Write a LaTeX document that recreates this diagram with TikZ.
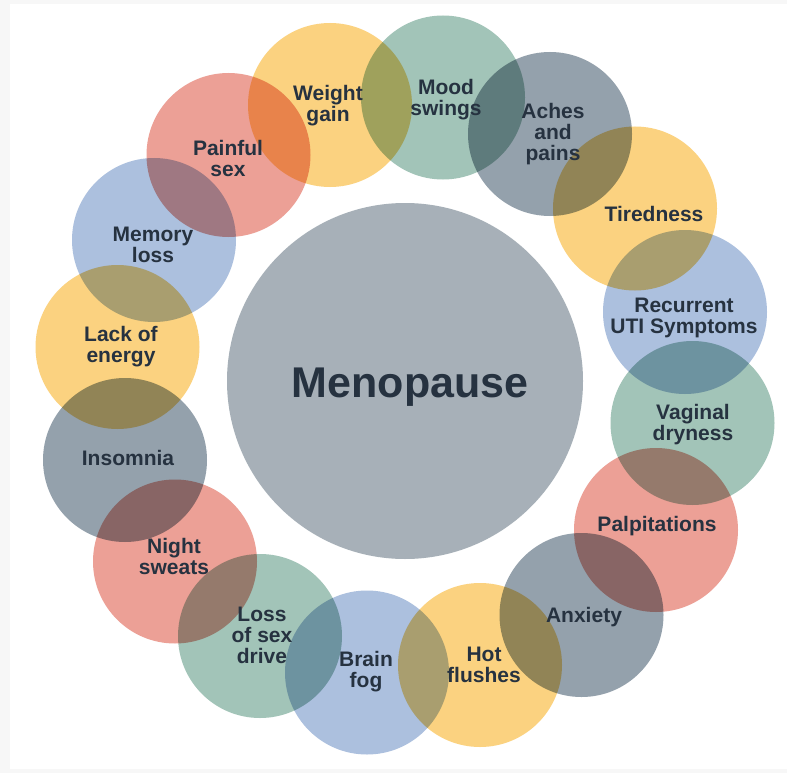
\documentclass[tikz,border=0pt]{standalone}
\usepackage{fontspec}
\setmainfont{Liberation Sans}
\definecolor{txt}{RGB}{38,50,64}
\definecolor{cen}{RGB}{167,176,184}
\definecolor{yel}{RGB}{251,210,128}
\definecolor{red}{RGB}{236,160,150}
\definecolor{grn}{RGB}{162,196,184}
\definecolor{gry}{RGB}{148,161,172}
\definecolor{blu}{RGB}{172,192,222}
\begin{document}
\begin{tikzpicture}[x=1pt,y=-1pt,
  bub/.style={circle,minimum size=164pt,inner sep=0pt,fill=#1,draw=none},
  lab/.style={text=txt,font=\bfseries\fontsize{21}{21}\selectfont,align=center,inner sep=0pt},
]
\fill[gray!6] (0,0) rectangle (787,773);
\fill[white] (10,4) rectangle (787,769);
\useasboundingbox (0,0) rectangle (787,773);
\node[circle,minimum size=356pt,inner sep=0pt,fill=cen] (meno) at (405,381) {};
\begin{scope}[blend mode=multiply]
\node[bub=yel] (c1) at (330,105) {};
\node[bub=grn] (c2) at (443,97.5) {};
\node[bub=gry] (c3) at (550,134) {};
\node[bub=yel] (c4) at (635,208.5) {};
\node[bub=blu] (c5) at (685,312) {};
\node[bub=grn] (c6) at (692.5,423) {};
\node[bub=red] (c7) at (656,530) {};
\node[bub=gry] (c8) at (581.5,615) {};
\node[bub=yel] (c9) at (480,665) {};
\node[bub=blu] (c10) at (367,672.5) {};
\node[bub=grn] (c11) at (260,636) {};
\node[bub=red] (c12) at (175,561.5) {};
\node[bub=gry] (c13) at (125,460) {};
\node[bub=yel] (c14) at (117.5,347) {};
\node[bub=blu] (c15) at (154,240) {};
\node[bub=red] (c16) at (228.5,155) {};
\end{scope}
\node[text=txt,font=\bfseries\fontsize{43}{43}\selectfont,inner sep=0pt,anchor=base] (tm) at (410,397) {Menopause};
\node[lab] (t1) at (328,106) {Weight\\gain};
\node[lab] (t2) at (446,100) {Mood\\swings};
\node[lab] (t3) at (553,134) {Aches\\and\\pains};
\node[lab] (t4) at (654,214) {Tiredness};
\node[lab] (t5) at (684,318) {Recurrent\\UTI Symptoms};
\node[lab] (t6) at (693,425) {Vaginal\\dryness};
\node[lab] (t7) at (657,526) {Palpitations};
\node[lab] (t8) at (584,617) {Anxiety};
\node[lab] (t9) at (484,665) {Hot\\flushes};
\node[lab] (t10) at (366,672) {Brain\\fog};
\node[lab] (t11) at (262,635) {Loss\\of sex\\drive};
\node[lab] (t12) at (174,556) {Night\\sweats};
\node[lab] (t13) at (128,458) {Insomnia};
\node[lab] (t14) at (121,347) {Lack of\\energy};
\node[lab] (t15) at (153,245) {Memory\\loss};
\node[lab] (t16) at (228,158) {Painful\\sex};
\end{tikzpicture}
\end{document}
